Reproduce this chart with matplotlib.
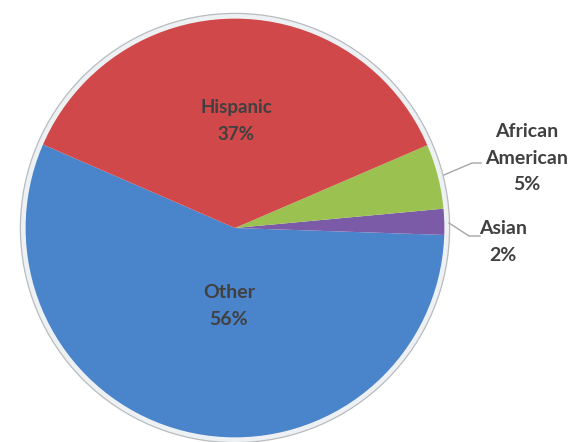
import matplotlib
matplotlib.use("Agg")
import matplotlib.pyplot as plt
from matplotlib.patches import Circle

# Share of population by group
categories = ["Other", "Asian", "African American", "Hispanic"]
values = [56, 2, 5, 37]
label_text = ["Other", "Asian", "African\nAmerican", "Hispanic"]
colors = ["#4a84cb", "#7b5ba8", "#9bc150", "#d04849"]

W, H = 582, 442
CX, CY, R = 235, 228, 214  # pie centre and radius in pixels


def px(x, y):
    """Pixel position -> data coordinates (pie radius = 1)."""
    return (x - CX) / R, (CY - y) / R


fig = plt.figure(figsize=(W / 100, H / 100), dpi=100)
ax = fig.add_axes([0, 0, 1, 1])

wedges, _ = ax.pie(values, colors=colors, startangle=156.5, counterclock=True,
                   radius=1.0, wedgeprops=dict(linewidth=0, antialiased=True))

# light bevelled rim
ax.add_patch(Circle((0, 0), 1.0 - 2.0 / R, fill=False, edgecolor="#eef1f3",
                    linewidth=3.8, zorder=3))
ax.add_patch(Circle((0, 0), 1.0 + 0.6 / R, fill=False, edgecolor="#b9bcbf",
                    linewidth=0.9, zorder=3))

ax.set_xlim(-CX / R, (W - CX) / R)
ax.set_ylim(-(H - CY) / R, CY / R)
ax.set_aspect("equal")
ax.axis("off")

font = dict(family=["Lato", "DejaVu Sans"], fontweight="bold", fontsize=14,
            color="#404040", ha="center", va="center", linespacing=1.65)

# labels inside the large slices
ax.text(*px(236, 121), f"{label_text[3]}\n{values[3]}%", fontsize=13.5,
        **{k: v for k, v in font.items() if k != "fontsize"})
ax.text(*px(229, 306), f"{label_text[0]}\n{values[0]}%", **font)

# labels outside the small slices, with leader lines
ax.text(*px(527, 158), f"{label_text[2]}\n{values[2]}%", **font)
ax.text(*px(503, 242), f"{label_text[1]}\n{values[1]}%", **font)

lc = dict(color="#a6a6a6", linewidth=1.0, zorder=4)
x0, y0 = px(444, 175); x1, y1 = px(472, 163); x2, y2 = px(481, 163)
ax.plot([x0, x1, x2], [y0, y1, y2], **lc)
x0, y0 = px(449, 223); x1, y1 = px(469, 236); x2, y2 = px(480, 236)
ax.plot([x0, x1, x2], [y0, y1, y2], **lc)

fig.savefig("out.png", dpi=100, facecolor="white")
